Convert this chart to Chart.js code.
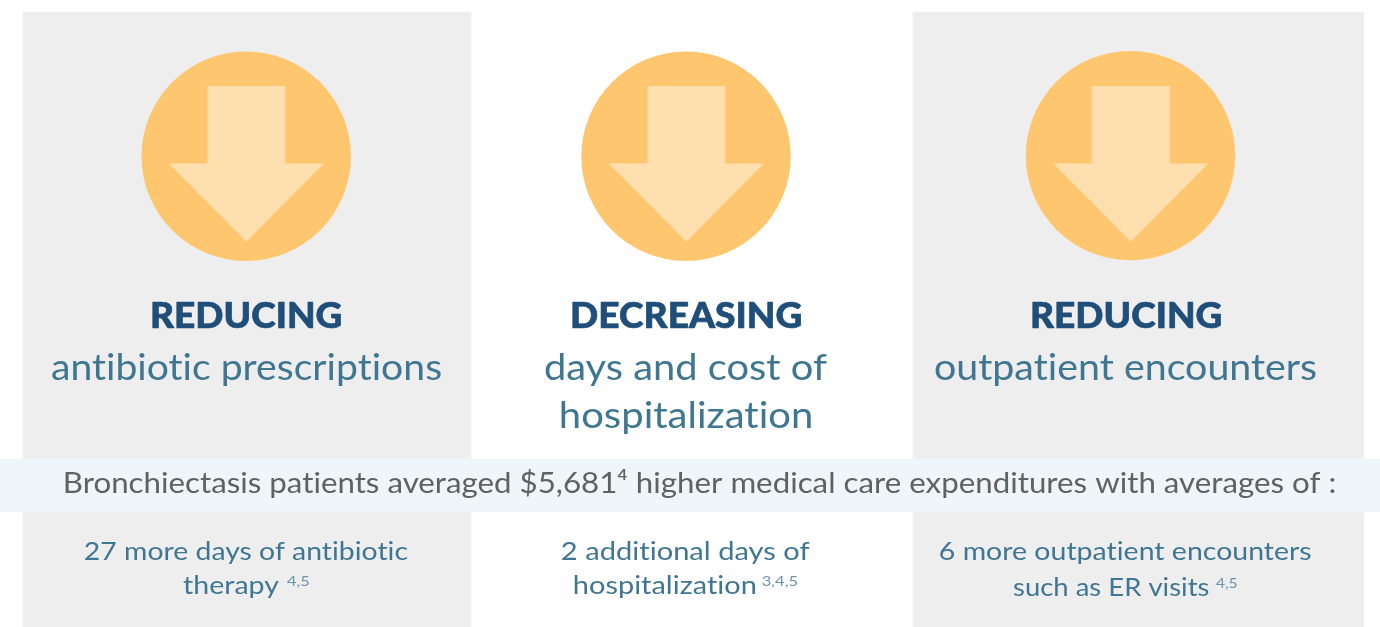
<!DOCTYPE html>
<html><head><meta charset="utf-8">
<style>html,body{margin:0;padding:0;background:#fff;overflow:hidden}canvas{display:block}</style>
<script src="https://cdn.jsdelivr.net/npm/chart.js@4/dist/chart.umd.min.js"></script>
</head><body><canvas id="c" width="1380" height="627"></canvas>
<script>
// Content
const headlines = ['REDUCING','DECREASING','REDUCING'];
const descriptions = [['antibiotic prescriptions'],['days and cost of','hospitalization'],['outpatient encounters']];
const bandText = 'Bronchiectasis patients averaged $5,681\u2074 higher medical care expenditures with averages of :';
const details = [['27 more days of antibiotic','therapy'],['2 additional days of','hospitalization'],['6 more outpatient encounters','such as ER visits']];
const footnotes = ['4,5','3,4,5','4,5'];

// Marks, in the units of the hidden axes
const panelCenters = [247, 1138.35];
const panelWidths = [448, 450.7];
const panelSpan = [12, 627];
const bandSpan = [459, 512];
const circleX = [246.2, 686, 1130.5];
const circleY = [156.3, 156.3, 155.6];
const circleR = [104.7, 104.7, 104.7];
const arrowX = [246.3, 686.3, 1130.8];
const arrowY = [163.5, 163.5, 163.5];

const NAVY='#1F4E79', TEAL='#3F7692', GREY='#616161', SUP='#6B93AA';
const FONT='Lato, sans-serif';

function arrowImage(){
  const c=document.createElement('canvas'); c.width=155; c.height=156;
  const g=c.getContext('2d'); g.fillStyle='#FEDFB0';
  g.beginPath(); g.moveTo(38.6,0); g.lineTo(116.4,0); g.lineTo(116.4,78); g.lineTo(155,78);
  g.lineTo(77.5,156); g.lineTo(0,78); g.lineTo(38.6,78); g.closePath(); g.fill();
  return c;
}

// [text, left, right, baseline, size, weight, colour]
const labels=[
 [headlines[0],152,341,328,36.5,900,NAVY],
 [headlines[1],572,801,328,36.5,900,NAVY],
 [headlines[2],1032,1221,328,36.5,900,NAVY],
 [descriptions[0][0],52,441,380,37,400,TEAL],
 [descriptions[1][0],545,827,380,37,400,TEAL],
 [descriptions[1][1],561,811.5,428,37,400,TEAL],
 [descriptions[2][0],935,1316,380,37,400,TEAL],
 [bandText,65,1335,493,28.5,400,GREY],
 [details[0][0],85,408,560,25,400,TEAL],
 [details[0][1],183,279,594,25,400,TEAL],
 [footnotes[0],287,309.5,586,14,400,SUP],
 [details[1][0],562,810,560,25,400,TEAL],
 [details[1][1],574,755.7,594,25,400,TEAL],
 [footnotes[1],761.7,798,586,14,400,SUP],
 [details[2][0],940,1310.7,560,25,400,TEAL],
 [details[2][1],1013,1208.5,596,25,400,TEAL],
 [footnotes[2],1216,1237.5,587.5,14,400,SUP],
];

const textPlugin={id:'texts',afterDatasetsDraw(chart){
  const {ctx,scales:{x,y}}=chart;
  ctx.textAlign='left'; ctx.textBaseline='alphabetic';
  for(const [t,l,r,b,size,w,col] of labels){
    ctx.save();
    ctx.font=`${w} ${size}px ${FONT}`; ctx.fillStyle=col;
    ctx.letterSpacing='0.01px'; // keeps the letters apart (no ligatures)
    const m=ctx.measureText(t);
    const inkW=m.actualBoundingBoxRight+m.actualBoundingBoxLeft;
    const k=(r-l)/inkW;
    ctx.translate(x.getPixelForValue(l),y.getPixelForValue(b));
    ctx.scale(k,1);
    ctx.fillText(t,m.actualBoundingBoxLeft,0);
    if(w===900){ctx.strokeStyle=col;ctx.lineWidth=0.7;ctx.lineJoin='round';ctx.strokeText(t,m.actualBoundingBoxLeft,0);}
    ctx.restore();
  }
}};

const arrow=arrowImage();
new Chart(document.getElementById('c'),{
  type:'bar',
  data:{datasets:[
    {type:'scatter',order:0,data:arrowX.map((v,i)=>({x:v,y:arrowY[i]})),pointStyle:arrow,pointRadius:78,showLine:false},
    {type:'bubble',order:1,data:circleX.map((v,i)=>({x:v,y:circleY[i],r:circleR[i]})),backgroundColor:'#FFC670',borderWidth:0},
    {type:'bar',order:2,data:[{x:690,y:bandSpan}],barThickness:1380,backgroundColor:'#EEF6F9',borderWidth:0},
    {type:'bar',order:3,data:[{x:panelCenters[0],y:panelSpan}],barThickness:panelWidths[0],backgroundColor:'#EEEEEE',borderWidth:0},
    {type:'bar',order:3,data:[{x:panelCenters[1],y:panelSpan}],barThickness:panelWidths[1],backgroundColor:'#EEEEEE',borderWidth:0}
  ]},
  options:{
    responsive:false,animation:false,events:[],
    layout:{padding:0,autoPadding:false},
    datasets:{bar:{grouped:false}},
    plugins:{legend:{display:false},tooltip:{enabled:false},title:{display:false}},
    scales:{
      x:{type:'linear',min:0,max:1380,display:false,offset:false},
      y:{type:'linear',min:0,max:627,reverse:true,display:false}
    }
  },
  plugins:[textPlugin]
});
</script></body></html>
